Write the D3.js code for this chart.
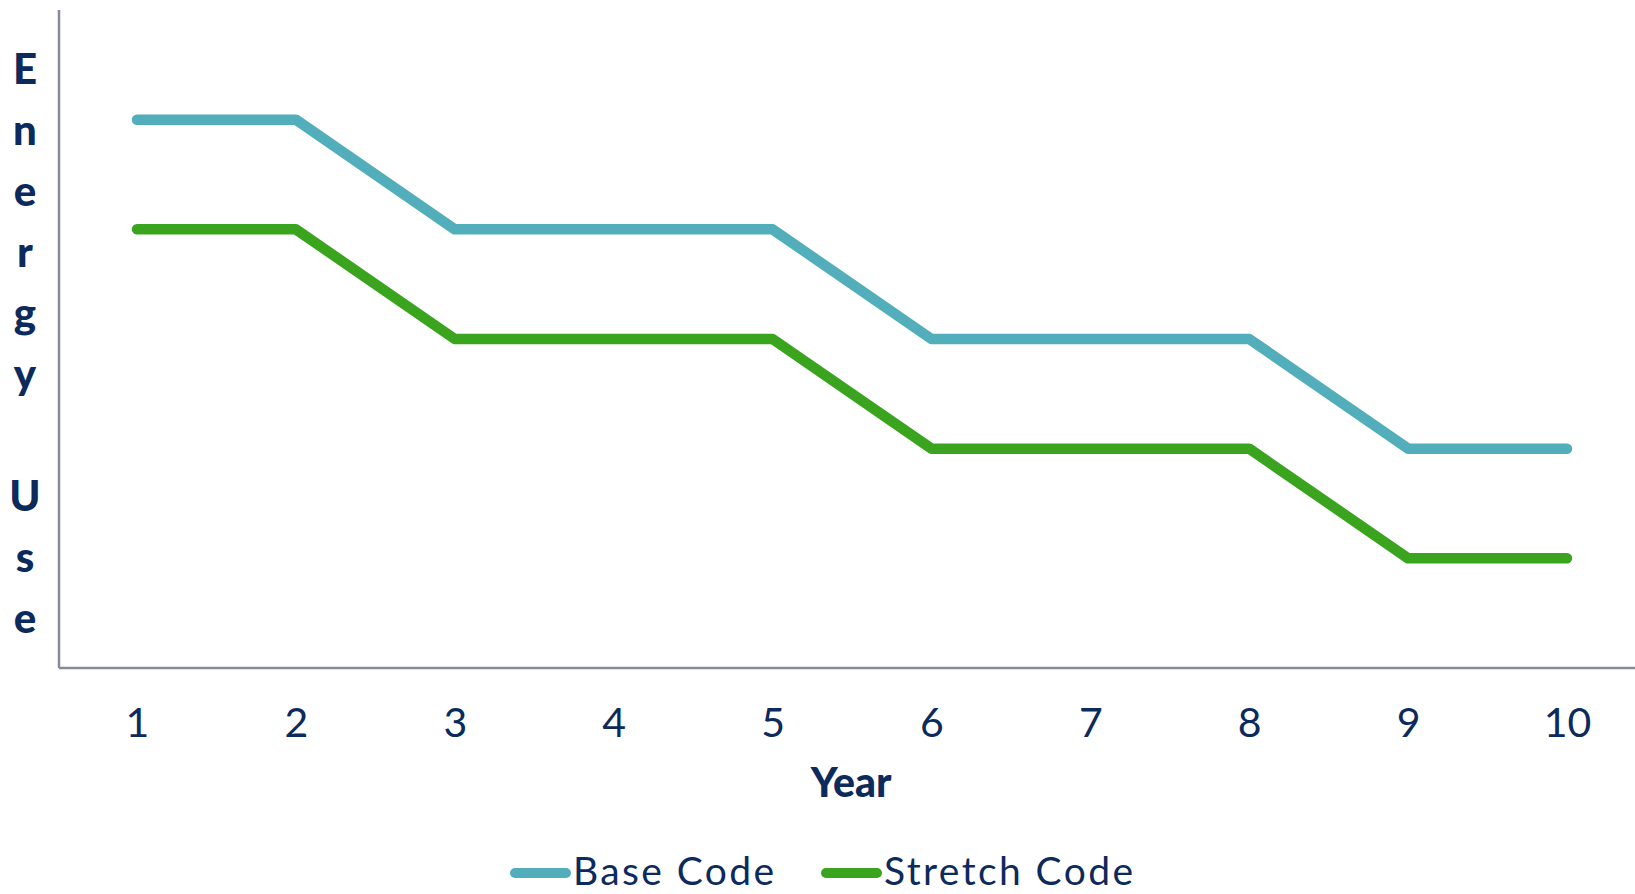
<!DOCTYPE html>
<html>
<head>
<meta charset="utf-8">
<script src="https://cdn.jsdelivr.net/npm/d3@7"></script>
<style>
  html, body { margin: 0; padding: 0; background: #ffffff; }
  svg { display: block; }
</style>
</head>
<body>
<svg id="chart" width="1635" height="894"></svg>
<script>
// Energy use by year under the two code paths
const years = [1, 2, 3, 4, 5, 6, 7, 8, 9, 10];
const baseCode = [5, 5, 4, 4, 4, 3, 3, 3, 2, 2];
const stretchCode = [4, 4, 3, 3, 3, 2, 2, 2, 1, 1];
const seriesNames = ["Base Code", "Stretch Code"];
const seriesColors = ["#53AEBC", "#3AA41F"];
const yTitle = "Energy Use";
const xTitle = "Year";

const textColor = "#0C2A5C";
const axisColor = "#878A9A";
const font = "Lato, 'Noto Sans', sans-serif";

const svg = d3.select("#chart");
const plotLeft = 59, plotTop = 10, plotBottom = 668, plotRight = 1635;

const x = d3.scalePoint().domain(years).range([137, 1567]);
const y = d3.scaleLinear().domain([0, 6]).range([plotBottom, plotTop]);

// Axes: plain spines, no tick marks
const xAxis = d3.axisBottom(x).tickSize(0).tickPadding(0);
const gx = svg.append("g").attr("transform", `translate(0,${plotBottom})`).call(xAxis);
gx.select(".domain").remove();
gx.selectAll("text")
  .attr("y", 69).attr("dy", null)
  .attr("font-family", font).attr("font-size", 41)
  .attr("fill", textColor);

svg.append("line")
  .attr("x1", plotLeft).attr("x2", plotRight)
  .attr("y1", plotBottom).attr("y2", plotBottom)
  .attr("stroke", axisColor).attr("stroke-width", 2.5);
svg.append("line")
  .attr("x1", plotLeft).attr("x2", plotLeft)
  .attr("y1", plotTop).attr("y2", plotBottom)
  .attr("stroke", axisColor).attr("stroke-width", 2.5);

// Lines
const line = d3.line()
  .x((d, i) => x(years[i]))
  .y(d => y(d));

[baseCode, stretchCode].forEach((vals, k) => {
  svg.append("path")
    .datum(vals)
    .attr("d", line)
    .attr("fill", "none")
    .attr("stroke", seriesColors[k])
    .attr("stroke-width", 10.5)
    .attr("stroke-linecap", "round")
    .attr("stroke-linejoin", "round");
});

// Y title, one letter per row
const letters = yTitle.split("");
svg.append("g").selectAll("text")
  .data(letters)
  .join("text")
  .attr("x", 25)
  .attr("y", (d, i) => 84 + i * 61)
  .attr("text-anchor", "middle")
  .attr("font-family", font)
  .attr("font-weight", 900)
  .attr("font-size", 42)
  .attr("fill", textColor)
  .text(d => d);

// X title
svg.append("text")
  .attr("x", 851).attr("y", 797)
  .attr("text-anchor", "middle")
  .attr("font-family", font)
  .attr("font-weight", 900)
  .attr("font-size", 41)
  .attr("fill", textColor)
  .text(xTitle);

// Legend
const legendItems = [
  { name: seriesNames[0], color: seriesColors[0], x0: 510 },
  { name: seriesNames[1], color: seriesColors[1], x0: 821 }
];
const lg = svg.append("g");
legendItems.forEach(it => {
  lg.append("line")
    .attr("x1", it.x0 + 5).attr("x2", it.x0 + 56)
    .attr("y1", 873).attr("y2", 873)
    .attr("stroke", it.color).attr("stroke-width", 10)
    .attr("stroke-linecap", "round");
  lg.append("text")
    .attr("x", it.x0 + 63).attr("y", 885)
    .attr("font-family", font)
    .attr("font-size", 39)
    .attr("letter-spacing", 2.4)
    .attr("fill", textColor)
    .text(it.name);
});
</script>
</body>
</html>
